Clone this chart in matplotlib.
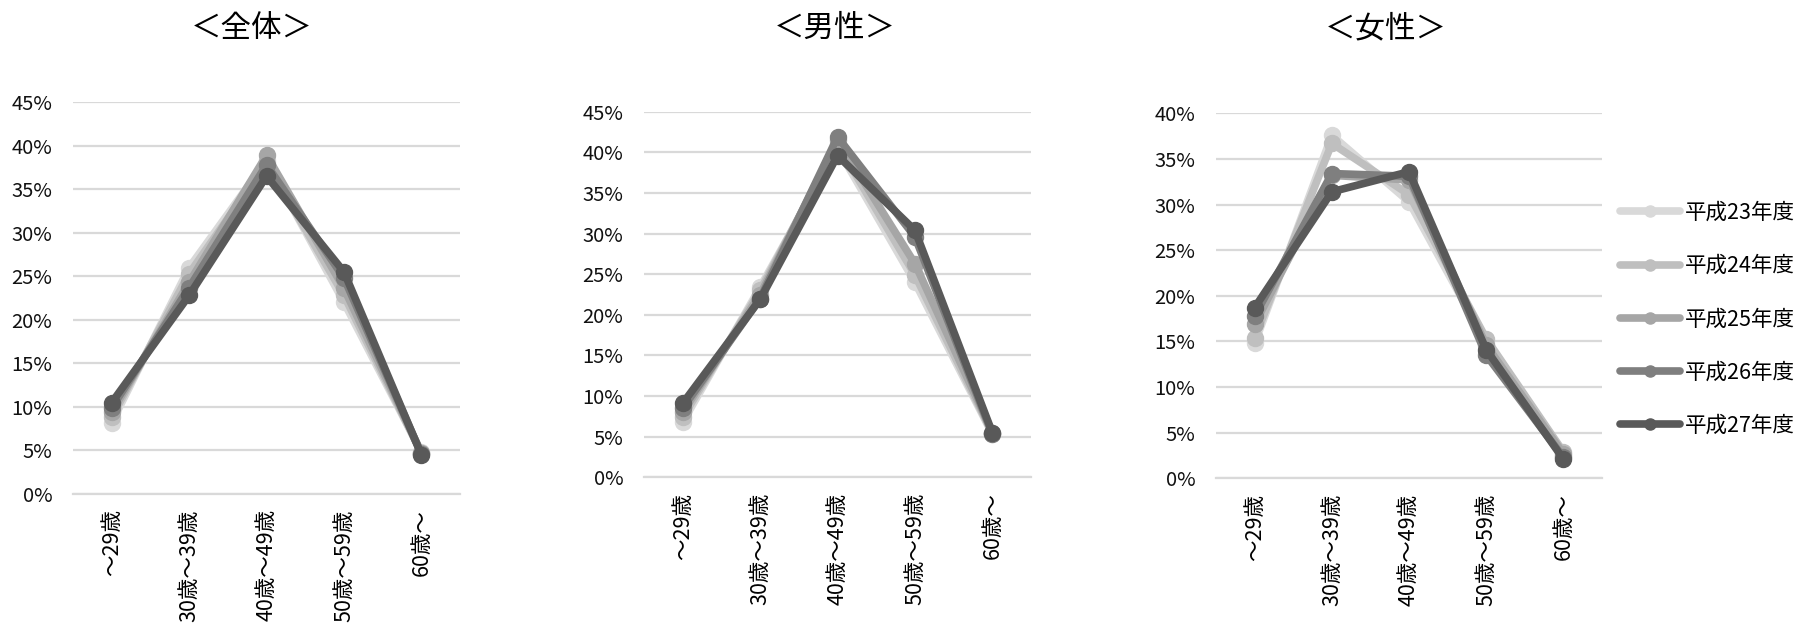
import matplotlib
matplotlib.use("Agg")
import matplotlib.pyplot as plt
from matplotlib.lines import Line2D
from matplotlib.ticker import FuncFormatter, MultipleLocator

plt.rcParams['font.family'] = ['Noto Sans CJK JP', 'DejaVu Sans']

# Age groups and fiscal years
age_groups = ["〜29歳", "30歳〜39歳", "40歳〜49歳", "50歳〜59歳", "60歳〜"]
years = ["平成23年度", "平成24年度", "平成25年度", "平成26年度", "平成27年度"]
year_colors = ["#d9d9d9", "#bfbfbf", "#a6a6a6", "#7f7f7f", "#595959"]

# Share of each age group (%), one list per fiscal year
total_h23 = [8.2, 26.0, 38.3, 22.0, 4.8]
total_h24 = [8.8, 25.3, 38.0, 22.8, 4.7]
total_h25 = [9.4, 24.3, 38.9, 23.6, 4.7]
total_h26 = [9.9, 23.7, 37.8, 24.8, 4.6]
total_h27 = [10.5, 22.8, 36.5, 25.5, 4.5]

male_h23 = [6.8, 23.4, 40.5, 24.0, 5.3]
male_h24 = [7.4, 23.0, 41.0, 24.9, 5.4]
male_h25 = [8.0, 22.5, 41.5, 26.3, 5.5]
male_h26 = [8.5, 22.0, 41.9, 29.6, 5.3]
male_h27 = [9.1, 21.9, 39.6, 30.4, 5.5]

female_h23 = [14.8, 37.6, 30.3, 14.8, 2.5]
female_h24 = [15.4, 36.7, 31.1, 15.3, 2.9]
female_h25 = [16.9, 33.2, 32.7, 14.6, 2.7]
female_h26 = [17.8, 33.4, 33.1, 13.5, 2.3]
female_h27 = [18.7, 31.4, 33.6, 14.1, 2.1]

panel_titles = ["＜全体＞", "＜男性＞", "＜女性＞"]
panel_series = [
    [total_h23, total_h24, total_h25, total_h26, total_h27],
    [male_h23, male_h24, male_h25, male_h26, male_h27],
    [female_h23, female_h24, female_h25, female_h26, female_h27],
]
panel_ymax = [45, 45, 40]

fig = plt.figure(figsize=(18, 6.25), dpi=100)

# [left, bottom, width, height] in figure fraction
axes_rects = [
    [0.0406, 0.2096, 0.2150, 0.6272],
    [0.3578, 0.2363, 0.2150, 0.5850],
    [0.6756, 0.2347, 0.2144, 0.5840],
]
title_x = [0.140, 0.4635, 0.770]

grid_color = "#d9d9d9"
x_pos = [i + 0.5 for i in range(len(age_groups))]

for rect, series, ymax, title, tx in zip(axes_rects, panel_series, panel_ymax,
                                          panel_titles, title_x):
    ax = fig.add_axes(rect)
    for vals, color in zip(series, year_colors):
        ax.plot(x_pos, vals, color=color, lw=5.5, marker="o", ms=11.5,
                solid_capstyle="round", solid_joinstyle="round", zorder=3)
    ax.set_xlim(0, len(age_groups))
    ax.set_ylim(0, ymax)
    ax.yaxis.set_major_locator(MultipleLocator(5))
    ax.yaxis.set_major_formatter(FuncFormatter(lambda v, p: f"{v:.0f}%"))
    ax.grid(axis="y", color=grid_color, lw=1.6, zorder=0)
    ax.set_axisbelow(True)
    for side in ["top", "right", "left"]:
        ax.spines[side].set_visible(False)
    ax.spines["bottom"].set_color(grid_color)
    ax.spines["bottom"].set_linewidth(1.6)
    ax.set_xticks(x_pos)
    ax.set_xticklabels(age_groups, rotation=90, fontsize=15.5, va="top", ha="center")
    ax.tick_params(axis="x", length=0, pad=11, colors="#000000")
    ax.tick_params(axis="y", length=0, pad=15, labelsize=14.5, colors="#111111")
    fig.text(tx, 0.954, title, ha="center", va="center", fontsize=22)

handles = [Line2D([0], [0], color=c, lw=5.5, marker="o", ms=8, solid_capstyle="round")
           for c in year_colors]
fig.legend(handles, years, loc="center left", bbox_to_anchor=(0.895, 0.489),
           frameon=False, fontsize=15.5, handlelength=2.8, handletextpad=0.25,
           labelspacing=1.45, borderaxespad=0)

fig.savefig("out.png", dpi=100, facecolor="white")
